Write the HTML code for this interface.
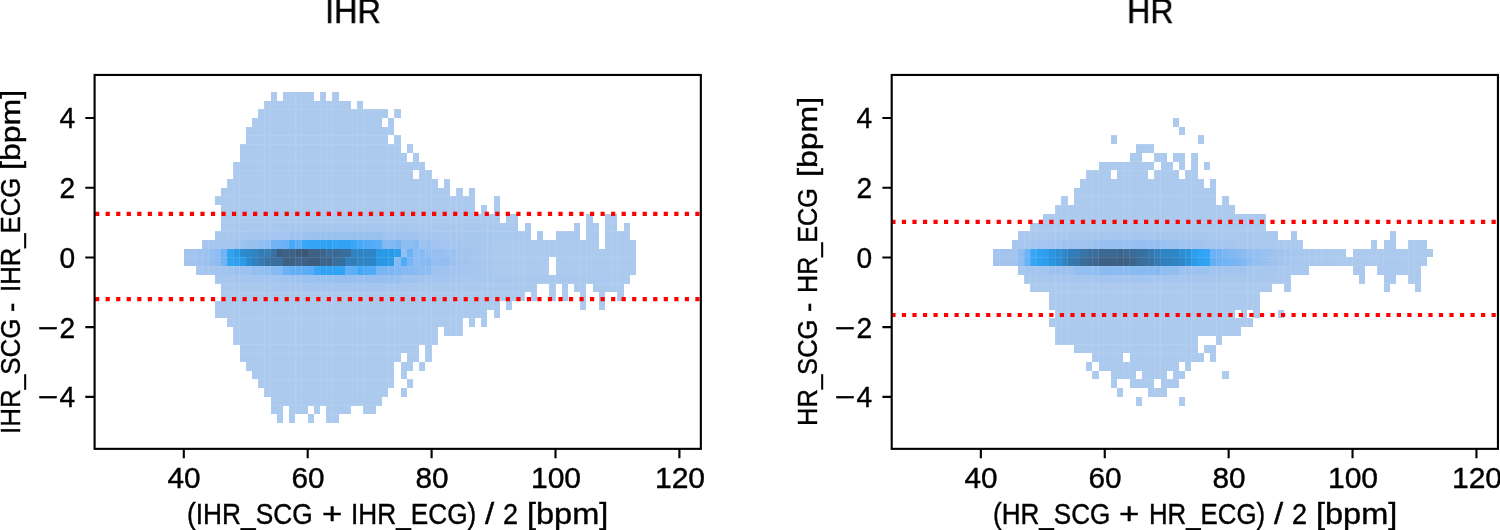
<!DOCTYPE html>
<html lang="en">
<head>
<meta charset="utf-8">
<title>IHR / HR Bland-Altman density</title>
<style>
html,body{margin:0;padding:0;background:#fff}
body{width:1500px;height:530px;position:relative;overflow:hidden;font-family:"Liberation Sans",sans-serif;color:#000}
svg{position:absolute;left:0;top:0;display:block}
.fr{fill:none;stroke:#000;stroke-width:2.12px}
.t{position:absolute;white-space:nowrap;line-height:1;margin:0;-webkit-text-stroke:.4px #000}
.t span{position:absolute;top:0;transform-origin:0 0}
.m{display:inline-block;font-style:normal;transform-origin:100% 50%;transform:translate(1px,.4px) scaleX(1.25);margin-right:2.064px}
#labels{position:absolute;left:0;top:0;width:1500px;height:530px;will-change:transform}
</style>
</head>
<body>
<svg width="1500" height="530" viewBox="0 0 1500 530">
<g class="hist">
<path fill="#2a98e3" d="M382 257h6v9h-6z"/>
<path fill="#2a99e5" d="M233 249h7v8h-7zM376 249h6v8h-6zM388 249h6v8h-6zM376 257h6v9h-6z"/>
<path fill="#2b9be8" d="M382 249h6v8h-6zM240 257h6v9h-6zM388 257h6v9h-6z"/>
<path fill="#2c8ace" d="M240 249h6v8h-6zM246 257h6v9h-6z"/>
<path fill="#2d88ca" d="M246 249h6v8h-6z"/>
<path fill="#2d9dec" d="M394 249h7v8h-7z"/>
<path fill="#2e85c6" d="M252 249h6v8h-6zM351 249h6v8h-6zM363 249h13v8h-13zM357 257h19v9h-19z"/>
<path fill="#2ea0ef" d="M326 240h6v9h-6zM233 257h7v9h-7z"/>
<path fill="#2f83c2" d="M357 249h6v8h-6z"/>
<path fill="#3080be" d="M252 257h6v9h-6zM345 257h6v9h-6z"/>
<path fill="#30a2f2" d="M320 240h6v9h-6zM339 240h6v9h-6zM227 249h6v8h-6zM227 257h6v9h-6z"/>
<path fill="#31a3f4" d="M345 240h6v9h-6zM320 266h25v9h-25z"/>
<path fill="#337cb6" d="M264 249h7v8h-7zM351 257h6v9h-6z"/>
<path fill="#33a5f5" d="M314 240h6v9h-6zM332 240h7v9h-7z"/>
<path fill="#3479b2" d="M258 249h6v8h-6zM258 257h6v9h-6z"/>
<path fill="#34a6f7" d="M308 240h6v9h-6z"/>
<path fill="#3772a5" d="M264 257h7v9h-7z"/>
<path fill="#3870a1" d="M271 249h6v8h-6z"/>
<path fill="#396d9c" d="M326 249h6v8h-6zM339 249h12v8h-12zM271 257h12v9h-12zM332 257h13v9h-13z"/>
<path fill="#39a7f7" d="M302 240h6v9h-6zM351 240h6v9h-6zM314 266h6v9h-6z"/>
<path fill="#3b6994" d="M332 249h7v8h-7z"/>
<path fill="#3c648b" d="M320 249h6v8h-6z"/>
<path fill="#3c6690" d="M295 257h7v9h-7zM320 257h6v9h-6z"/>
<path fill="#3d5672" d="M302 249h6v8h-6z"/>
<path fill="#3d5b7a" d="M295 249h7v8h-7z"/>
<path fill="#3d5d7f" d="M277 249h6v8h-6zM308 257h12v9h-12z"/>
<path fill="#3d6083" d="M308 249h6v8h-6zM283 257h12v9h-12z"/>
<path fill="#3d6287" d="M283 249h12v8h-12zM314 249h6v8h-6zM302 257h6v9h-6zM326 257h6v9h-6z"/>
<path fill="#3fa8f7" d="M357 266h6v9h-6z"/>
<path fill="#46a9f7" d="M289 240h6v9h-6zM357 240h6v9h-6z"/>
<path fill="#4caaf7" d="M363 266h7v9h-7z"/>
<path fill="#50abf7" d="M363 240h7v9h-7zM401 257h6v9h-6zM370 266h6v9h-6z"/>
<path fill="#54acf6" d="M370 240h6v9h-6z"/>
<path fill="#58adf6" d="M308 266h6v9h-6z"/>
<path fill="#5aadf6" d="M295 240h7v9h-7zM376 240h6v9h-6zM302 266h6v9h-6zM351 266h6v9h-6z"/>
<path fill="#62aff5" d="M289 266h13v9h-13zM345 266h6v9h-6z"/>
<path fill="#6ab1f5" d="M283 240h6v9h-6zM407 249h6v8h-6zM283 266h6v9h-6z"/>
<path fill="#6fb2f5" d="M277 240h6v9h-6z"/>
<path fill="#72b3f4" d="M271 240h6v9h-6zM221 249h6v8h-6zM221 257h6v9h-6z"/>
<path fill="#77b5f4" d="M376 266h6v9h-6z"/>
<path fill="#79b5f4" d="M394 240h7v9h-7zM407 257h6v9h-6z"/>
<path fill="#7ab6f3" d="M382 266h6v9h-6z"/>
<path fill="#7db7f3" d="M388 266h6v9h-6z"/>
<path fill="#7fb8f3" d="M388 240h6v9h-6zM394 266h7v9h-7z"/>
<path fill="#82b8f3" d="M382 240h6v9h-6z"/>
<path fill="#84b9f2" d="M277 266h6v9h-6z"/>
<path fill="#86baf2" d="M419 249h6v8h-6zM394 257h7v9h-7zM425 257h7v9h-7zM401 266h6v9h-6z"/>
<path fill="#87baf2" d="M271 266h6v9h-6zM407 266h6v9h-6z"/>
<path fill="#89bbf2" d="M413 240h6v9h-6zM419 257h6v9h-6zM413 266h6v9h-6z"/>
<path fill="#8cbcf2" d="M264 240h7v9h-7zM215 257h6v9h-6zM413 257h6v9h-6zM419 266h6v9h-6z"/>
<path fill="#8ebdf1" d="M401 240h12v9h-12zM215 249h6v8h-6zM413 249h6v8h-6zM425 266h7v9h-7z"/>
<path fill="#90bef1" d="M258 240h6v9h-6zM264 266h7v9h-7z"/>
<path fill="#92bef1" d="M425 249h7v8h-7zM438 257h12v9h-12zM258 266h6v9h-6z"/>
<path fill="#93bef1" d="M252 266h6v9h-6z"/>
<path fill="#95bff1" d="M209 249h6v8h-6zM401 249h6v8h-6zM438 249h6v8h-6zM209 257h6v9h-6zM432 257h6v9h-6z"/>
<path fill="#97c0f0" d="M252 240h6v9h-6zM432 249h6v8h-6zM339 275h62v9h-62z"/>
<path fill="#98c1f0" d="M332 275h7v9h-7z"/>
<path fill="#99c1f0" d="M320 231h62v9h-62zM246 240h6v9h-6zM425 240h7v9h-7zM320 275h12v9h-12z"/>
<path fill="#9ac1f0" d="M314 231h6v9h-6zM314 275h6v9h-6z"/>
<path fill="#9cc2f0" d="M240 240h6v9h-6zM246 266h6v9h-6zM308 275h6v9h-6z"/>
<path fill="#9dc2f0" d="M308 231h6v9h-6zM419 240h6v9h-6zM196 249h13v8h-13zM444 249h12v8h-12zM196 257h13v9h-13zM450 257h6v9h-6zM233 266h13v9h-13zM432 266h6v9h-6zM302 275h6v9h-6z"/>
<path fill="#9ec3f0" d="M302 231h6v9h-6zM227 266h6v9h-6z"/>
<path fill="#9fc3ef" d="M438 266h6v9h-6zM295 275h7v9h-7z"/>
<path fill="#a0c4ef" d="M295 231h7v9h-7zM382 231h37v9h-37zM456 257h13v9h-13zM289 275h6v9h-6zM401 275h6v9h-6z"/>
<path fill="#a1c4ef" d="M289 231h6v9h-6zM444 266h6v9h-6zM283 275h6v9h-6zM407 275h12v9h-12z"/>
<path fill="#a2c4ef" d="M233 240h7v9h-7zM432 240h6v9h-6zM184 249h12v8h-12zM456 249h13v8h-13zM184 257h12v9h-12zM221 266h6v9h-6zM450 266h6v9h-6zM277 275h6v9h-6zM419 275h6v9h-6z"/>
<path fill="#a3c5ef" d="M283 231h6v9h-6zM227 240h6v9h-6zM438 240h6v9h-6zM456 266h7v9h-7zM264 275h13v9h-13zM425 275h7v9h-7z"/>
<path fill="#a4c5ef" d="M271 231h12v9h-12zM221 240h6v9h-6zM444 240h6v9h-6zM469 249h6v8h-6zM469 257h6v9h-6zM215 266h6v9h-6zM463 266h6v9h-6zM252 275h12v9h-12zM432 275h12v9h-12z"/>
<path fill="#a5c6ef" d="M264 231h7v9h-7zM215 240h6v9h-6zM450 240h6v9h-6zM209 266h6v9h-6zM469 266h6v9h-6zM246 275h6v9h-6zM444 275h6v9h-6z"/>
<path fill="#a6c6ef" d="M246 231h18v9h-18zM419 231h19v9h-19zM202 240h13v9h-13zM456 240h7v9h-7zM475 249h6v8h-6zM475 257h6v9h-6zM202 266h7v9h-7zM475 266h6v9h-6zM233 275h13v9h-13zM450 275h13v9h-13zM302 284h80v8h-80z"/>
<path fill="#a7c7ef" d="M302 223h80v8h-80zM240 231h6v9h-6zM438 231h18v9h-18zM463 240h12v9h-12zM481 249h6v8h-6zM481 257h6v9h-6zM196 266h6v9h-6zM481 266h6v9h-6zM221 275h12v9h-12zM463 275h18v9h-18zM283 284h19v8h-19zM382 284h12v8h-12z"/>
<path fill="#a8c7ee" d="M277 223h25v8h-25zM382 223h25v8h-25zM221 231h19v9h-19zM456 231h31v9h-31zM475 240h12v9h-12zM487 249h7v8h-7zM487 257h7v9h-7zM487 266h7v9h-7zM215 275h6v9h-6zM481 275h31v9h-31zM264 284h19v8h-19zM394 284h19v8h-19z"/>
<path fill="#a9c8ee" d="M258 223h19v8h-19zM407 223h18v8h-18zM215 231h6v9h-6zM487 231h31v9h-31zM487 240h7v9h-7zM512 275h31v9h-31zM252 284h12v8h-12zM413 284h12v8h-12z"/>
<path fill="#aac8ee" d="M233 223h25v8h-25zM425 223h56v8h-56zM518 231h13v9h-13zM537 231h6v9h-6zM556 231h6v9h-6zM543 275h37v9h-37zM233 284h19v8h-19zM425 284h56v8h-56z"/>
<path fill="#abc8ee" d="M221 223h12v8h-12zM481 223h37v8h-37zM525 223h6v8h-6zM574 223h6v8h-6zM562 231h18v9h-18zM586 231h13v9h-13zM580 275h31v9h-31zM221 284h12v8h-12zM481 284h56v8h-56zM549 284h7v8h-7zM562 284h6v8h-6z"/>
<path fill="#acc9ee" d="M271 92h6v9h-6zM283 92h31v9h-31zM320 92h6v9h-6zM332 92h7v9h-7zM264 101h87v8h-87zM357 101h6v8h-6zM258 109h130v9h-130zM394 109h7v9h-7zM252 118h130v9h-130zM388 118h6v9h-6zM246 127h148v8h-148zM246 135h142v9h-142zM394 135h7v9h-7zM240 144h161v9h-161zM407 144h6v9h-6zM240 153h167v9h-167zM413 153h6v9h-6zM233 162h192v8h-192zM233 170h180v9h-180zM419 170h13v9h-13zM227 179h211v9h-211zM444 179h6v9h-6zM221 188h229v8h-229zM456 188h7v8h-7zM469 188h6v8h-6zM215 196h260v9h-260zM494 196h6v9h-6zM221 205h254v9h-254zM481 205h6v9h-6zM494 205h6v9h-6zM221 214h279v9h-279zM506 214h12v9h-12zM586 214h7v9h-7zM605 214h12v9h-12zM586 223h13v8h-13zM605 223h12v8h-12zM624 223h6v8h-6zM605 231h25v9h-25zM494 240h105v9h-105zM605 240h31v9h-31zM494 249h142v8h-142zM494 257h55v9h-55zM556 257h80v9h-80zM494 266h55v9h-55zM556 266h80v9h-80zM611 275h19v9h-19zM574 284h12v8h-12zM593 284h31v8h-31zM221 292h304v9h-304zM531 292h6v9h-6zM549 292h7v9h-7zM562 292h6v9h-6zM580 292h6v9h-6zM599 292h6v9h-6zM617 292h7v9h-7zM215 301h285v9h-285zM506 301h6v9h-6zM580 301h6v9h-6zM599 301h6v9h-6zM215 310h272v8h-272zM494 310h6v8h-6zM227 318h236v9h-236zM469 318h6v9h-6zM481 318h6v9h-6zM233 327h205v9h-205zM444 327h19v9h-19zM233 336h205v9h-205zM240 345h179v8h-179zM425 345h7v8h-7zM240 353h161v9h-161zM407 353h12v9h-12zM425 353h7v9h-7zM246 362h148v9h-148zM401 362h12v9h-12zM419 362h6v9h-6zM252 371h142v8h-142zM401 371h6v8h-6zM258 379h136v9h-136zM407 379h6v9h-6zM264 388h124v9h-124zM401 388h6v9h-6zM271 397h111v9h-111zM271 406h12v8h-12zM289 406h19v8h-19zM314 406h6v8h-6zM326 406h25v8h-25zM363 406h13v8h-13zM277 414h6v9h-6zM289 414h6v9h-6zM308 414h6v9h-6zM326 414h13v9h-13z"/>
<path fill="#fff" fill-opacity=".1" d="M196 92h1v331h-1zM202 92h1v331h-1zM208 92h1v331h-1zM233 92h1v331h-1zM239 92h1v331h-1zM264 92h1v331h-1zM270 92h1v331h-1zM295 92h1v331h-1zM301 92h1v331h-1zM326 92h1v331h-1zM332 92h1v331h-1zM357 92h1v331h-1zM363 92h1v331h-1zM388 92h1v331h-1zM394 92h1v331h-1zM419 92h1v331h-1zM425 92h1v331h-1zM431 92h1v331h-1zM450 92h1v331h-1zM456 92h1v331h-1zM462 92h1v331h-1zM487 92h1v331h-1zM493 92h1v331h-1zM518 92h1v331h-1zM524 92h1v331h-1zM549 92h1v331h-1zM555 92h1v331h-1zM580 92h1v331h-1zM586 92h1v331h-1zM611 92h1v331h-1zM617 92h1v331h-1zM184 414h452v1h-452zM184 405h452v1h-452zM184 379h452v1h-452zM184 353h452v1h-452zM184 344h452v1h-452zM184 318h452v1h-452zM184 292h452v1h-452zM184 283h452v1h-452zM184 257h452v1h-452zM184 231h452v1h-452zM184 222h452v1h-452zM184 196h452v1h-452zM184 170h452v1h-452zM184 161h452v1h-452zM184 144h452v1h-452zM184 135h452v1h-452zM184 109h452v1h-452z"/>
<path fill="#fff" fill-opacity=".05" d="M227 92h1v331h-1zM258 92h1v331h-1zM289 92h1v331h-1zM320 92h1v331h-1zM481 92h1v331h-1zM512 92h1v331h-1zM543 92h1v331h-1zM574 92h1v331h-1zM184 388h452v1h-452zM184 327h452v1h-452zM184 266h452v1h-452zM184 205h452v1h-452z"/>
<path fill="#2a8fd6" d="M1055 257h6v9h-6z"/>
<path fill="#2a90d8" d="M1185 257h6v9h-6z"/>
<path fill="#2a93dc" d="M1185 249h6v8h-6z"/>
<path fill="#2a94de" d="M1049 249h6v8h-6z"/>
<path fill="#2a95df" d="M1049 257h6v9h-6z"/>
<path fill="#2b8dd2" d="M1179 249h6v8h-6z"/>
<path fill="#2b8dd4" d="M1055 249h6v8h-6z"/>
<path fill="#2b9ae7" d="M1191 257h7v9h-7z"/>
<path fill="#2d87c9" d="M1179 257h6v9h-6z"/>
<path fill="#2d88ca" d="M1061 249h7v8h-7z"/>
<path fill="#2d9eed" d="M1043 249h6v8h-6zM1043 257h6v9h-6z"/>
<path fill="#2e85c6" d="M1167 249h6v8h-6zM1061 257h7v9h-7zM1173 257h6v9h-6z"/>
<path fill="#2e86c8" d="M1173 249h6v8h-6z"/>
<path fill="#2e9fee" d="M1191 249h7v8h-7z"/>
<path fill="#2f84c5" d="M1161 249h6v8h-6z"/>
<path fill="#2fa1f0" d="M1198 257h6v9h-6z"/>
<path fill="#2fa1f1" d="M1037 249h6v8h-6zM1037 257h6v9h-6z"/>
<path fill="#3081bf" d="M1167 257h6v9h-6z"/>
<path fill="#3180bd" d="M1161 257h6v9h-6z"/>
<path fill="#31a3f4" d="M1198 249h6v8h-6z"/>
<path fill="#327db8" d="M1074 249h6v8h-6z"/>
<path fill="#327eba" d="M1068 249h6v8h-6zM1154 249h7v8h-7z"/>
<path fill="#32a4f4" d="M1204 257h6v9h-6z"/>
<path fill="#337bb4" d="M1154 257h7v9h-7z"/>
<path fill="#34a6f7" d="M1204 249h6v8h-6zM1030 257h7v9h-7z"/>
<path fill="#3577ad" d="M1148 249h6v8h-6z"/>
<path fill="#3578af" d="M1068 257h6v9h-6z"/>
<path fill="#3676ac" d="M1074 257h6v9h-6z"/>
<path fill="#3772a5" d="M1148 257h6v9h-6z"/>
<path fill="#3773a7" d="M1080 249h6v8h-6z"/>
<path fill="#3870a2" d="M1142 249h6v8h-6z"/>
<path fill="#396d9c" d="M1092 249h7v8h-7z"/>
<path fill="#396e9d" d="M1142 257h6v9h-6z"/>
<path fill="#396f9f" d="M1086 249h6v8h-6z"/>
<path fill="#396fa0" d="M1136 249h6v8h-6z"/>
<path fill="#39a7f7" d="M1030 249h7v8h-7z"/>
<path fill="#3a6b97" d="M1130 249h6v8h-6z"/>
<path fill="#3a6c9a" d="M1080 257h6v9h-6zM1136 257h6v9h-6z"/>
<path fill="#3b6791" d="M1086 257h6v9h-6z"/>
<path fill="#3b6892" d="M1099 249h12v8h-12z"/>
<path fill="#3b6994" d="M1111 249h6v8h-6zM1123 249h7v8h-7z"/>
<path fill="#3c658d" d="M1117 249h6v8h-6zM1130 257h6v9h-6z"/>
<path fill="#3c668f" d="M1092 257h7v9h-7z"/>
<path fill="#3d5f81" d="M1117 257h6v9h-6z"/>
<path fill="#3d6084" d="M1105 257h12v9h-12zM1123 257h7v9h-7z"/>
<path fill="#3d6186" d="M1099 257h6v9h-6z"/>
<path fill="#65b0f5" d="M1210 257h6v9h-6z"/>
<path fill="#6ab1f5" d="M1210 249h6v8h-6zM1024 257h6v9h-6z"/>
<path fill="#6fb2f5" d="M1024 249h6v8h-6zM1216 257h6v9h-6z"/>
<path fill="#72b3f4" d="M1216 249h6v8h-6zM1222 257h7v9h-7z"/>
<path fill="#76b5f4" d="M1229 257h6v9h-6z"/>
<path fill="#7bb6f3" d="M1222 249h7v8h-7zM1235 257h6v9h-6z"/>
<path fill="#7fb8f3" d="M1229 249h6v8h-6z"/>
<path fill="#83b9f3" d="M1241 257h6v9h-6z"/>
<path fill="#84b9f2" d="M1154 266h7v9h-7z"/>
<path fill="#86baf2" d="M1235 249h6v8h-6z"/>
<path fill="#88bbf2" d="M1130 266h24v9h-24z"/>
<path fill="#8abbf2" d="M1099 266h31v9h-31z"/>
<path fill="#8cbcf2" d="M1241 249h6v8h-6zM1247 257h6v9h-6z"/>
<path fill="#8fbdf1" d="M1018 249h6v8h-6zM1018 257h6v9h-6z"/>
<path fill="#90bef1" d="M1161 266h18v9h-18z"/>
<path fill="#92bef1" d="M1253 257h7v9h-7z"/>
<path fill="#93bef1" d="M1074 266h25v9h-25z"/>
<path fill="#94bff1" d="M1247 249h6v8h-6z"/>
<path fill="#95bff1" d="M1136 240h25v9h-25zM1253 249h7v8h-7z"/>
<path fill="#97c0f0" d="M1092 240h44v9h-44z"/>
<path fill="#98c1f0" d="M1260 257h6v9h-6z"/>
<path fill="#9ac1f0" d="M1161 240h6v9h-6zM1260 249h6v8h-6z"/>
<path fill="#9cc2f0" d="M1167 240h12v9h-12zM1266 249h6v8h-6zM1266 257h6v9h-6zM1179 266h31v9h-31z"/>
<path fill="#9dc2f0" d="M1049 266h25v9h-25z"/>
<path fill="#9fc3ef" d="M1061 240h31v9h-31z"/>
<path fill="#a0c4ef" d="M1179 240h25v9h-25zM1272 249h6v8h-6zM1272 257h6v9h-6z"/>
<path fill="#a1c4ef" d="M1278 249h6v8h-6z"/>
<path fill="#a2c4ef" d="M999 249h19v8h-19zM993 257h25v9h-25zM1278 257h6v9h-6zM1210 266h37v9h-37z"/>
<path fill="#a4c5ef" d="M1030 240h31v9h-31zM993 249h6v8h-6zM1024 266h25v9h-25zM1099 275h49v9h-49z"/>
<path fill="#a5c6ef" d="M1074 275h25v9h-25zM1148 275h31v9h-31z"/>
<path fill="#a6c6ef" d="M1111 231h37v9h-37zM1204 240h31v9h-31zM1284 249h7v8h-7zM1284 257h7v9h-7zM1061 275h13v9h-13zM1179 275h12v9h-12z"/>
<path fill="#a7c7ef" d="M1086 231h25v9h-25zM1148 231h31v9h-31zM1291 249h6v8h-6zM1291 257h6v9h-6zM1247 266h13v9h-13zM1055 275h6v9h-6zM1191 275h19v9h-19z"/>
<path fill="#a8c7ee" d="M1068 231h18v9h-18zM1179 231h25v9h-25zM1012 240h18v9h-18zM1297 249h6v8h-6zM1297 257h6v9h-6zM1260 266h18v9h-18zM1043 275h12v9h-12zM1210 275h12v9h-12z"/>
<path fill="#a9c8ee" d="M1049 231h19v9h-19zM1204 231h18v9h-18zM1303 249h6v8h-6zM1303 257h6v9h-6zM1018 266h6v9h-6zM1278 266h19v9h-19zM1030 275h13v9h-13zM1222 275h38v9h-38z"/>
<path fill="#aac8ee" d="M1030 231h19v9h-19zM1222 231h50v9h-50zM1235 240h18v9h-18zM1309 249h6v8h-6zM1309 257h6v9h-6zM1297 266h12v9h-12zM1024 275h6v9h-6zM1260 275h31v9h-31z"/>
<path fill="#abc8ee" d="M1018 231h12v9h-12zM1272 231h6v9h-6zM1291 231h6v9h-6zM1253 240h31v9h-31zM1315 249h13v8h-13zM1315 257h13v9h-13zM1353 266h12v9h-12zM1377 266h13v9h-13zM1359 275h6v9h-6z"/>
<path fill="#acc9ee" d="M1173 118h6v9h-6zM1179 127h6v8h-6zM1111 135h6v9h-6zM1198 135h6v9h-6zM1136 144h18v9h-18zM1130 153h12v9h-12zM1154 153h13v9h-13zM1173 153h12v9h-12zM1191 153h7v9h-7zM1099 162h55v8h-55zM1161 162h12v8h-12zM1179 162h6v8h-6zM1191 162h7v8h-7zM1204 162h6v8h-6zM1086 170h25v9h-25zM1117 170h31v9h-31zM1154 170h25v9h-25zM1185 170h13v9h-13zM1080 179h124v9h-124zM1210 179h6v9h-6zM1074 188h142v8h-142zM1061 196h7v9h-7zM1074 196h142v9h-142zM1222 196h7v9h-7zM1055 205h180v9h-180zM1043 214h223v9h-223zM1030 223h236v8h-236zM1390 231h6v9h-6zM1284 240h19v9h-19zM1371 240h6v9h-6zM1384 240h12v9h-12zM1408 240h19v9h-19zM1328 249h18v8h-18zM1353 249h80v8h-80zM1328 257h99v9h-99zM1390 266h31v9h-31zM1384 275h12v9h-12zM1408 275h13v9h-13zM1030 284h242v8h-242zM1284 284h7v8h-7zM1384 284h6v8h-6zM1415 284h6v8h-6zM1049 292h211v9h-211zM1049 301h211v9h-211zM1055 310h180v8h-180zM1241 310h6v8h-6zM1253 310h7v8h-7zM1278 310h6v8h-6zM1049 318h204v9h-204zM1055 327h186v9h-186zM1055 336h143v9h-143zM1216 336h6v9h-6zM1074 345h124v8h-124zM1204 345h12v8h-12zM1092 353h31v9h-31zM1130 353h74v9h-74zM1210 353h6v9h-6zM1086 362h6v9h-6zM1099 362h80v9h-80zM1185 362h6v9h-6zM1092 371h7v8h-7zM1111 371h25v8h-25zM1142 371h25v8h-25zM1173 371h12v8h-12zM1222 371h7v8h-7zM1111 379h6v9h-6zM1130 379h24v9h-24zM1161 379h18v9h-18zM1117 388h6v9h-6zM1148 388h19v9h-19zM1136 397h6v9h-6zM1179 397h6v9h-6z"/>
<path fill="#fff" fill-opacity=".1" d="M999 118h1v288h-1zM1024 118h1v288h-1zM1030 118h1v288h-1zM1036 118h1v288h-1zM1055 118h1v288h-1zM1061 118h1v288h-1zM1067 118h1v288h-1zM1092 118h1v288h-1zM1098 118h1v288h-1zM1123 118h1v288h-1zM1129 118h1v288h-1zM1154 118h1v288h-1zM1160 118h1v288h-1zM1185 118h1v288h-1zM1191 118h1v288h-1zM1216 118h1v288h-1zM1222 118h1v288h-1zM1247 118h1v288h-1zM1253 118h1v288h-1zM1278 118h1v288h-1zM1284 118h1v288h-1zM1290 118h1v288h-1zM1309 118h1v288h-1zM1315 118h1v288h-1zM1321 118h1v288h-1zM1346 118h1v288h-1zM1352 118h1v288h-1zM1377 118h1v288h-1zM1383 118h1v288h-1zM1408 118h1v288h-1zM1414 118h1v288h-1zM993 379h440v1h-440zM993 353h440v1h-440zM993 344h440v1h-440zM993 318h440v1h-440zM993 292h440v1h-440zM993 283h440v1h-440zM993 257h440v1h-440zM993 231h440v1h-440zM993 222h440v1h-440zM993 196h440v1h-440zM993 170h440v1h-440zM993 161h440v1h-440zM993 144h440v1h-440zM993 135h440v1h-440z"/>
<path fill="#fff" fill-opacity=".05" d="M1086 118h1v288h-1zM1117 118h1v288h-1zM1148 118h1v288h-1zM1179 118h1v288h-1zM1340 118h1v288h-1zM1371 118h1v288h-1zM1402 118h1v288h-1zM993 388h440v1h-440zM993 327h440v1h-440zM993 266h440v1h-440zM993 205h440v1h-440z"/>
</g>
<path d="M183.80 448.85v9.3M307.70 448.85v9.3M431.60 448.85v9.3M555.50 448.85v9.3M679.40 448.85v9.3M94.60 118.05h-9.3M94.60 187.75h-9.3M94.60 257.45h-9.3M94.60 327.15h-9.3M94.60 396.85h-9.3" stroke="#000" stroke-width="2.12" fill="none"/>
<path d="M95.10 213.80H700.85" stroke="#ff0000" stroke-width="4.2" stroke-dasharray="4.2 6.33" fill="none"/>
<path d="M95.10 299.20H700.85" stroke="#ff0000" stroke-width="4.2" stroke-dasharray="4.2 6.33" fill="none"/>
<rect x="94.60" y="74.95" width="606.25" height="373.90" class="fr"/>
<path d="M980.85 448.85v9.3M1104.75 448.85v9.3M1228.65 448.85v9.3M1352.55 448.85v9.3M1476.45 448.85v9.3M891.70 118.05h-9.3M891.70 187.75h-9.3M891.70 257.45h-9.3M891.70 327.15h-9.3M891.70 396.85h-9.3" stroke="#000" stroke-width="2.12" fill="none"/>
<path d="M891.35 221.80H1497.95" stroke="#ff0000" stroke-width="4.2" stroke-dasharray="4.2 6.33" fill="none"/>
<path d="M891.35 315.00H1497.95" stroke="#ff0000" stroke-width="4.2" stroke-dasharray="4.2 6.33" fill="none"/>
<rect x="891.70" y="74.95" width="606.25" height="373.90" class="fr"/>
</svg>
<div id="labels">
<div class="t" style="left:0;top:-6.70px;font-size:35.00px"><span style="left:324.86px;transform:scaleX(0.9271)">IHR</span></div>
<div class="t" style="left:0;top:-6.70px;font-size:35.00px"><span style="left:1126.94px;transform:scaleX(0.9217)">HR</span></div>
<div class="t" style="left:0;top:499.80px;font-size:29.00px"><span style="left:187.31px;transform:scaleX(0.9063)">(IHR_SCG</span> <span style="left:321.99px;transform:scaleX(1.2017)">+</span> <span style="left:351.30px;transform:scaleX(0.9038)">IHR_ECG)</span> <span style="left:485.08px;transform:scaleX(1.1399)">/</span> <span style="left:503.10px;transform:scaleX(0.9307)">2</span> <span style="left:526.97px;transform:scaleX(1.1197)">[bpm]</span></div>
<div class="t" style="left:0;top:499.80px;font-size:29.00px"><span style="left:992.68px;transform:scaleX(0.8992)">(HR_SCG</span> <span style="left:1118.99px;transform:scaleX(1.2017)">+</span> <span style="left:1149.38px;transform:scaleX(0.8892)">HR_ECG)</span> <span style="left:1273.98px;transform:scaleX(1.1399)">/</span> <span style="left:1292.00px;transform:scaleX(0.9307)">2</span> <span style="left:1315.82px;transform:scaleX(1.1206)">[bpm]</span></div>
<div class="t" style="left:-3.48px;top:432.00px;font-size:27.50px;transform-origin:0 0;transform:rotate(-90deg)"><span style="left:-2.48px;transform:scaleX(0.9451)">IHR_SCG</span> <span style="left:120.34px;transform:scaleX(1.0165)">-</span> <span style="left:139.54px;transform:scaleX(0.9339)">IHR_ECG</span> <span style="left:262.13px;transform:scaleX(1.1651)">[bpm]</span></div>
<div class="t" style="left:793.72px;top:424.00px;font-size:27.50px;transform-origin:0 0;transform:rotate(-90deg)"><span style="left:-2.21px;transform:scaleX(0.9290)">HR_SCG</span> <span style="left:111.54px;transform:scaleX(1.0165)">-</span> <span style="left:131.44px;transform:scaleX(0.9148)">HR_ECG</span> <span style="left:246.73px;transform:scaleX(1.1651)">[bpm]</span></div>
<div class="t" style="left:183.80px;top:463.80px;font-size:29.00px;transform-origin:50% 0;transform:translateX(-50%) scaleX(1.025)">40</div>
<div class="t" style="left:307.70px;top:463.80px;font-size:29.00px;transform-origin:50% 0;transform:translateX(-50%) scaleX(1.025)">60</div>
<div class="t" style="left:431.60px;top:463.80px;font-size:29.00px;transform-origin:50% 0;transform:translateX(-50%) scaleX(1.025)">80</div>
<div class="t" style="left:555.70px;top:463.80px;font-size:29.00px;transform-origin:50% 0;transform:translateX(-50%) scaleX(1.037)">100</div>
<div class="t" style="left:679.60px;top:463.80px;font-size:29.00px;transform-origin:50% 0;transform:translateX(-50%) scaleX(1.037)">120</div>
<div class="t" style="left:980.85px;top:463.80px;font-size:29.00px;transform-origin:50% 0;transform:translateX(-50%) scaleX(1.025)">40</div>
<div class="t" style="left:1104.75px;top:463.80px;font-size:29.00px;transform-origin:50% 0;transform:translateX(-50%) scaleX(1.025)">60</div>
<div class="t" style="left:1228.65px;top:463.80px;font-size:29.00px;transform-origin:50% 0;transform:translateX(-50%) scaleX(1.025)">80</div>
<div class="t" style="left:1352.75px;top:463.80px;font-size:29.00px;transform-origin:50% 0;transform:translateX(-50%) scaleX(1.037)">100</div>
<div class="t" style="left:1476.65px;top:463.80px;font-size:29.00px;transform-origin:50% 0;transform:translateX(-50%) scaleX(1.037)">120</div>
<div class="t" style="right:1424.60px;top:103.80px;font-size:29.00px;transform-origin:100% 0;transform:scaleX(0.970)">4</div>
<div class="t" style="right:1424.60px;top:173.80px;font-size:29.00px;transform-origin:100% 0;transform:scaleX(0.970)">2</div>
<div class="t" style="right:1424.60px;top:243.80px;font-size:29.00px;transform-origin:100% 0;transform:scaleX(0.970)">0</div>
<div class="t" style="right:1424.60px;top:313.80px;font-size:29.00px;transform-origin:100% 0;transform:scaleX(0.970)"><i class="m">−</i>2</div>
<div class="t" style="right:1424.60px;top:382.80px;font-size:29.00px;transform-origin:100% 0;transform:scaleX(0.970)"><i class="m">−</i>4</div>
<div class="t" style="right:627.80px;top:103.80px;font-size:29.00px;transform-origin:100% 0;transform:scaleX(0.970)">4</div>
<div class="t" style="right:627.80px;top:173.80px;font-size:29.00px;transform-origin:100% 0;transform:scaleX(0.970)">2</div>
<div class="t" style="right:627.80px;top:243.80px;font-size:29.00px;transform-origin:100% 0;transform:scaleX(0.970)">0</div>
<div class="t" style="right:627.80px;top:313.80px;font-size:29.00px;transform-origin:100% 0;transform:scaleX(0.970)"><i class="m">−</i>2</div>
<div class="t" style="right:627.80px;top:382.80px;font-size:29.00px;transform-origin:100% 0;transform:scaleX(0.970)"><i class="m">−</i>4</div>
</div>
</body>
</html>
